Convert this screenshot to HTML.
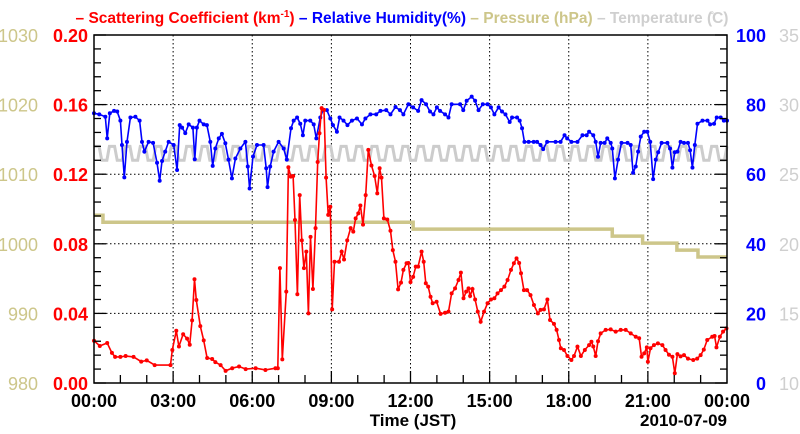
<!DOCTYPE html>
<html><head><meta charset="utf-8"><style>
html,body{margin:0;padding:0;background:#fff;}
svg{display:block;font-family:"Liberation Sans",sans-serif;}
</style></head><body>
<svg id="chart" width="800" height="434" viewBox="0 0 800 434" xmlns="http://www.w3.org/2000/svg">
<text x="402" y="23" text-anchor="middle" font-size="15.5" font-weight="bold"><tspan fill="#ff0000">– Scattering Coefficient (km</tspan><tspan fill="#ff0000" font-size="10" dy="-6">-1</tspan><tspan fill="#ff0000" dy="6">)</tspan><tspan fill="#0000ff"> – Relative Humidity(%)</tspan><tspan fill="#cdc68a"> – Pressure (hPa)</tspan><tspan fill="#cfcfcf"> – Temperature (̊C)</tspan></text>
<g id="grid"></g>
<g id="series"></g>
<g id="axes"></g>
</svg>
<script>
// ---- data ----
const xTickLabels=["00:00","03:00","06:00","09:00","12:00","15:00","18:00","21:00","00:00"];
const scatTicks=["0.00","0.04","0.08","0.12","0.16","0.20"];
const presTicks=["980","990","1000","1010","1020","1030"];
const rhTicks=["0","20","40","60","80","100"];
const tempTicks=["10","15","20","25","30","35"];

const scatHours=[0,0.22,0.5,0.68,0.8,1.0,1.2,1.5,1.79,2.0,2.3,2.9,2.97,3.12,3.22,3.38,3.53,3.63,3.72,3.81,3.88,4.03,4.16,4.29,4.48,4.6,4.8,4.99,5.24,5.5,5.75,6.13,6.5,6.88,6.97,7.05,7.14,7.29,7.37,7.46,7.55,7.62,7.71,7.8,7.88,7.96,8.05,8.13,8.21,8.3,8.4,8.48,8.55,8.63,8.72,8.8,8.88,8.96,9.03,9.12,9.29,9.39,9.48,9.6,9.73,9.83,9.92,10.02,10.1,10.2,10.3,10.4,10.52,10.64,10.74,10.83,10.9,10.99,11.12,11.24,11.33,11.43,11.53,11.64,11.73,11.85,11.92,12.0,12.1,12.2,12.29,12.42,12.5,12.58,12.67,12.76,12.84,12.99,13.14,13.31,13.44,13.56,13.69,13.82,13.91,14.01,14.11,14.2,14.26,14.35,14.45,14.55,14.66,14.79,14.92,15.05,15.18,15.3,15.43,15.56,15.68,15.81,15.92,16.02,16.12,16.19,16.3,16.42,16.55,16.68,16.83,16.93,17.06,17.19,17.29,17.44,17.54,17.63,17.7,17.82,17.95,18.1,18.2,18.33,18.46,18.61,18.77,18.86,18.93,19.02,19.11,19.21,19.4,19.59,19.78,19.97,20.16,20.35,20.54,20.67,20.76,20.86,20.96,21.0,21.1,21.23,21.38,21.55,21.67,21.8,21.93,22.02,22.12,22.24,22.37,22.52,22.72,22.87,23.0,23.12,23.25,23.44,23.53,23.6,23.73,23.85,23.98];
const scatValues=[0.0243,0.0213,0.023,0.0173,0.015,0.015,0.0155,0.015,0.0123,0.013,0.0103,0.0103,0.019,0.030,0.021,0.028,0.0255,0.022,0.036,0.0596,0.0477,0.0327,0.0245,0.0144,0.0138,0.012,0.0103,0.007,0.0085,0.0095,0.008,0.0085,0.0075,0.0085,0.0085,0.066,0.0136,0.0525,0.124,0.1186,0.119,0.0937,0.051,0.108,0.082,0.066,0.0755,0.040,0.084,0.054,0.089,0.127,0.1435,0.158,0.157,0.118,0.0966,0.1013,0.0423,0.0697,0.0697,0.0755,0.071,0.082,0.089,0.087,0.0946,0.0975,0.102,0.091,0.108,0.134,0.125,0.119,0.109,0.1234,0.118,0.0946,0.094,0.0875,0.0764,0.0697,0.0538,0.0577,0.065,0.0688,0.069,0.058,0.061,0.0669,0.0669,0.0755,0.0697,0.0573,0.0554,0.0496,0.0458,0.0467,0.0397,0.0404,0.041,0.0515,0.0544,0.0592,0.0634,0.0487,0.0525,0.0544,0.05,0.054,0.048,0.041,0.0352,0.041,0.0458,0.048,0.0487,0.0515,0.0534,0.0554,0.0592,0.065,0.0688,0.0716,0.069,0.0631,0.0534,0.0534,0.0505,0.0448,0.040,0.042,0.0423,0.048,0.0362,0.034,0.0305,0.0247,0.020,0.019,0.0155,0.0132,0.0155,0.0209,0.0155,0.019,0.0218,0.0237,0.021,0.0155,0.024,0.0285,0.0305,0.0308,0.0295,0.0305,0.0305,0.0285,0.0266,0.0257,0.0151,0.017,0.0205,0.0122,0.020,0.0218,0.0228,0.0218,0.019,0.0162,0.0151,0.0056,0.0166,0.0153,0.016,0.014,0.0132,0.014,0.016,0.0192,0.0247,0.0266,0.027,0.0205,0.0266,0.0295,0.0314];

const rhHours=[0,0.2,0.43,0.5,0.6,0.76,0.88,1.0,1.06,1.15,1.25,1.38,1.57,1.73,1.82,1.91,2.07,2.24,2.39,2.49,2.58,2.7,2.83,3.02,3.15,3.25,3.34,3.46,3.59,3.75,3.82,3.9,4.0,4.16,4.28,4.41,4.5,4.6,4.73,4.85,4.98,5.1,5.23,5.36,5.55,5.74,5.83,5.9,6.03,6.18,6.43,6.53,6.58,6.68,6.81,7.0,7.19,7.31,7.47,7.57,7.7,7.82,7.92,8.01,8.2,8.33,8.43,8.58,8.68,8.83,8.96,9.06,9.21,9.31,9.46,9.61,9.78,9.97,10.16,10.29,10.48,10.7,10.86,11.08,11.24,11.43,11.6,11.73,11.92,12.1,12.29,12.42,12.59,12.74,12.87,13.0,13.12,13.31,13.44,13.56,13.88,14.0,14.13,14.32,14.45,14.58,14.74,14.92,15.05,15.18,15.34,15.47,15.6,15.76,15.85,16.04,16.14,16.23,16.32,16.48,16.67,16.8,16.93,17.03,17.18,17.5,17.69,17.84,17.94,18.1,18.33,18.52,18.68,18.77,18.93,19.02,19.11,19.21,19.36,19.46,19.59,19.65,19.75,19.87,20.0,20.23,20.35,20.44,20.54,20.63,20.73,20.86,20.98,21.09,21.2,21.3,21.39,21.52,21.74,21.84,21.93,22.02,22.12,22.24,22.37,22.52,22.6,22.69,22.78,22.88,23.07,23.26,23.36,23.51,23.61,23.76,23.88,24.0];
const rhValues=[77.5,77.2,76.5,70.3,77.5,78.2,78,75.4,68.4,59.1,69.3,76.3,76.5,75.4,69.3,66.5,69.3,69,63.3,58.1,63.8,66.5,69.3,68.4,61.2,74.1,73.4,71.8,74.3,73.4,64.3,73.4,75.4,74.3,74.1,69.3,62.4,67.4,70.3,71.6,68.9,64.2,58.8,64.5,67.4,69.3,62.2,55.9,65.1,68.4,68.4,61.7,56.3,62.2,66.5,69.3,67.4,64.2,73.2,75.4,76.3,74.5,71.2,75.4,75.4,74.3,70.3,76.3,78.4,78.4,76,74.1,72.2,76.3,75.4,74.1,75.4,76,74.3,76,77.2,77.2,78.2,78.4,77.2,79.3,78.4,77.2,80.1,79.2,78.2,81.3,80.1,78,77.2,79.2,78.2,77.2,76.3,80.1,80.1,78.4,81.1,82.3,81.1,78.4,80.1,80.1,79.2,77.2,79.2,78,77.2,75,76.3,76.3,75.4,73.2,69.3,69.3,69.3,69.3,68.4,67.2,69.3,69.3,69.3,71.2,70.3,69.3,69.3,71.2,71.2,72.2,71.2,69.3,65,69,69,70.3,69,67.4,58.8,64.2,69,69,68.4,60.4,62.2,66.5,70.8,72.2,72.2,69.3,58.6,64.2,66.3,69,69,67.4,61.9,66.3,66.5,69.3,69,69,66.9,61.9,68.4,74.5,75.4,75.4,74.3,74.5,76.3,76.3,75.4,75.4];

const presHours=[0,0.34,12.1,19.65,20.8,22.1,22.9,24];
const presValues=[1004.1,1003.1,1002.1,1001.1,1000.1,999.1,998.1,998.1];

const temps=[27,27,27,26,26,26,27,27,27,26,26,26,27,27,27,26,26,26,27,27,27,26,26,26,27,27,27,26,26,26,27,27,27,26,26,26,27,27,27,26,26,26,27,27,27,26,26,26,27,27,27,26,26,26,27,27,27,26,26,26,27,27,27,26,26,26,27,27,27,26,26,26,27,27,27,26,26,26,27,27,27,26,26,26,27,27,27,26,26,26,27,27,27,26,26,26,27,27,27,26,26,26,27,27,27,26,26,26,27,27,27,26,26,26,27,27,27,26,26,26,27,27,27,26,26,26,27,27,27,26,26,26,27,27,27,26,26,26,27,27,27,26,26,26,27,27,27,26,26,26,27,27,27,26,26,26,27,27,27,26,26,26,27,27,27,26,26,26,27,27,27,26,26,26,27,27,27,26,26,26,27,27,27,26,26,26,27,27,27,26,26,26,27,27,27,26,26,26,27,27,27,26,26,26,27,27,27,26,26,26,27,27,27,26,26,26,27,27,27,26,26,26,27,27,27,26,26,26,27,27,27,26,26,26,27,27,27,26,26,26,27,27,27,26,26,26,27];

// ---- geometry ----
const L=94,R=727,T=35,B=383;
const NS="http://www.w3.org/2000/svg";
const xS=h=>L+(R-L)*h/24;
const yScat=v=>B-(B-T)*v/0.2;
const yRH=v=>B-(B-T)*v/100;
const yPres=v=>B-(B-T)*(v-980)/50;
const yTemp=v=>B-(B-T)*(v-10)/25;
function mk(tag,attrs,parent){const e=document.createElementNS(NS,tag);for(const k in attrs)e.setAttribute(k,attrs[k]);parent.appendChild(e);return e;}
const grid=document.getElementById('grid'),series=document.getElementById('series'),axes=document.getElementById('axes');

for(let i=1;i<8;i++){const g=mk('line',{x1:xS(i*3),x2:xS(i*3),y1:T,y2:B,stroke:'#000','stroke-width':1,'stroke-dasharray':'1.5,2.5'},grid);

}
for(let i=1;i<5;i++){const y=yScat(i*0.04);const g=mk('line',{x1:L,x2:R,y1:y,y2:y,stroke:'#000','stroke-width':1,'stroke-dasharray':'1.5,2.5'},grid);

}

{const step=24/(temps.length-1);const pts=temps.map((t,i)=>xS(i*step).toFixed(1)+','+yTemp(t).toFixed(1)).join(' ');
const p=mk('polyline',{points:pts,fill:'none',stroke:'#cccccc','stroke-width':3},series);

}
{let pts=[];for(let i=0;i<presHours.length;i++){if(i>0)pts.push(xS(presHours[i])+','+yPres(presValues[i-1]));pts.push(xS(presHours[i])+','+yPres(presValues[i]));}
const p=mk('polyline',{points:pts.join(' '),fill:'none',stroke:'#cdc68a','stroke-width':3.5},series);

}
function drawLine(hours,vals,ys,color,name){
  const pts=hours.map((h,i)=>xS(h).toFixed(1)+','+ys(vals[i]).toFixed(1)).join(' ');
  const p=mk('polyline',{points:pts,fill:'none',stroke:color,'stroke-width':1.6},series);
  
  
  hours.forEach((h,i)=>{const c=mk('circle',{cx:xS(h),cy:ys(vals[i]),r:2,fill:color},series);
    
    });
}
drawLine(rhHours,rhValues,yRH,'#0000ff','humidity');
drawLine(scatHours,scatValues,yScat,'#ff0000','scattering');

{const f=mk('rect',{x:L,y:T,width:R-L,height:B-T,fill:'none',stroke:'#000','stroke-width':1.5},axes);

}
for(let i=0;i<=25;i++){const y=T+(B-T)*i/25;const major=i%5===0;const len=major?12:7;
  const a=mk('line',{x1:L,x2:L+len,y1:y,y2:y,stroke:'#000','stroke-width':1.3},axes);
  
  
  const b=mk('line',{x1:R,x2:R-len,y1:y,y2:y,stroke:'#000','stroke-width':1.3},axes);
  
  }
for(let h=1;h<24;h++){const t=mk('line',{x1:xS(h),x2:xS(h),y1:B,y2:B-(h%3===0?12:8),stroke:'#000','stroke-width':1.3},axes);

}
function txt(s,x,y,anchor,color,name,size){const t=mk('text',{x:x,y:y,'text-anchor':anchor,fill:color,'font-size':size||18,'font-weight':'bold'},axes);t.textContent=s;

return t;}
scatTicks.forEach((s,i)=>{const y=yScat(i*0.04)+7;txt(s,88,y,'end','#ff0000','scattering-tick-label');});
presTicks.forEach((s,i)=>{const y=yScat(i*0.04)+7;const t=txt(s,38,y,'end','#cdc68a','pressure-tick-label');t.setAttribute('font-weight','normal');});
rhTicks.forEach((s,i)=>{const y=yScat(i*0.04)+7;txt(s,766,y,'end','#0000ff','humidity-tick-label');});
tempTicks.forEach((s,i)=>{const y=yScat(i*0.04)+7;const t=txt(s,799,y,'end','#cfcfcf','temperature-tick-label');t.setAttribute('font-weight','normal');});
xTickLabels.forEach((s,i)=>{txt(s,xS(i*3),407,'middle','#000','x-tick-label');});
txt('Time (JST)',413,426,'middle','#000','x-axis-title',17);
txt('2010-07-09',727,426,'end','#000','date-label',17);
</script>
</body></html>
